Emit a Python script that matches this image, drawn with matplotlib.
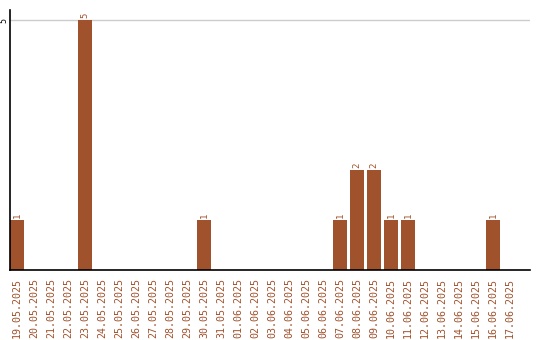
import matplotlib.pyplot as plt

dates = ["19.05.2025", "20.05.2025", "21.05.2025", "22.05.2025", "23.05.2025",
         "24.05.2025", "25.05.2025", "26.05.2025", "27.05.2025", "28.05.2025",
         "29.05.2025", "30.05.2025", "31.05.2025", "01.06.2025", "02.06.2025",
         "03.06.2025", "04.06.2025", "05.06.2025", "06.06.2025", "07.06.2025",
         "08.06.2025", "09.06.2025", "10.06.2025", "11.06.2025", "12.06.2025",
         "13.06.2025", "14.06.2025", "15.06.2025", "16.06.2025", "17.06.2025"]
counts = [1, 0, 0, 0, 5, 0, 0, 0, 0, 0,
          0, 1, 0, 0, 0, 0, 0, 0, 0, 1,
          2, 2, 1, 1, 0, 0, 0, 0, 1, 0]

color = "#a0522d"
mono = "DejaVu Sans Mono"

fig = plt.figure(figsize=(5.4, 3.4), dpi=100)
ax = fig.add_axes([10 / 540, 70 / 340, 520 / 540, 260 / 340])

x = list(range(len(dates)))
ax.bar(x, counts, width=0.82, color=color, zorder=2)

# value labels above the non-empty bars
for i, c in zip(x, counts):
    if c > 0:
        ax.text(i, c + 0.04, str(c), rotation=90, ha="center", va="bottom",
                color=color, fontsize=6.5, family=mono)

ax.set_xlim(-0.41, 30.18)
ax.set_ylim(0, 5.2)
ax.set_yticks([5])
ax.set_yticklabels(["5"], rotation=90, va="center", family=mono, fontsize=6)
ax.axhline(5, color="#cccccc", lw=1, zorder=1)

ax.set_xticks(x)
ax.set_xticklabels(dates, rotation=90, color=color, family=mono, fontsize=7.2)
ax.tick_params(length=0, pad=6)
ax.tick_params(axis="y", pad=1)

for s in ["top", "right"]:
    ax.spines[s].set_visible(False)
ax.spines["left"].set_linewidth(1.2)
ax.spines["bottom"].set_linewidth(1.2)

fig.savefig("out.png", dpi=100)
